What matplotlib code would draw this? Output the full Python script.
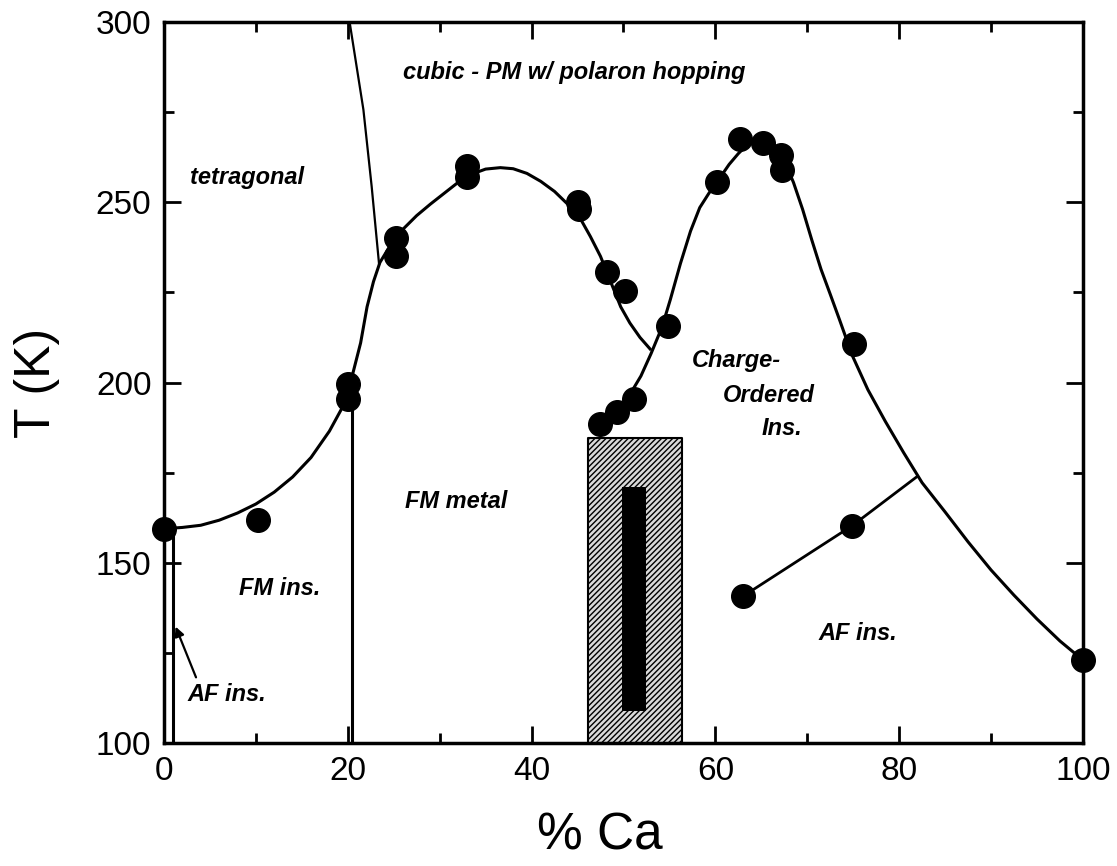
import matplotlib

matplotlib.use("Agg")
import matplotlib.pyplot as plt
from matplotlib.ticker import MultipleLocator

plt.rcParams["font.family"] = ["Liberation Sans", "DejaVu Sans"]
plt.rcParams["hatch.linewidth"] = 1.0

# measured Tc / T_CO points (% Ca, K)
ca_pct = [0, 10.2, 20, 20, 25.2, 25.2, 33, 33, 45.1, 45.2, 48.2, 50.2, 54.9,
          47.5, 49.3, 51.2, 60.2, 62.7, 65.2, 67.1, 67.3, 75.1, 100]
temp_k = [159.5, 162, 199.6, 195.5, 240, 235, 260, 257, 250, 248, 230.6, 225.3, 215.8,
          188.5, 191.8, 195.4, 255.5, 267.5, 266.5, 263, 259, 210.6, 123]

# AF ordering points
af_x = [63, 74.9]
af_y = [140.7, 160.3]
af_line_x = [63, 74.9, 82.0]
af_line_y = [140.7, 160.3, 174.0]

# FM transition curve
fm_curve_x = [0.3, 2, 4, 6, 8, 10, 12, 14, 16, 18, 19.5, 20.6, 21.4, 22.1, 22.8, 23.5,
              24.5, 26, 27.5, 29, 30.5, 32, 33.5, 35, 36.6, 38, 39.5, 41, 42.5, 44,
              45.3, 46.4, 47.5, 48.6, 49.7, 50.7, 51.8, 52.9]
fm_curve_y = [159.5, 159.8, 160.4, 161.8, 163.8, 166.3, 169.6, 173.8, 179.2, 186.5,
              193.5, 203, 211, 221, 228, 233.3, 237.5, 242.5, 246.3, 249.5, 252.5,
              255.5, 257.8, 259.2, 259.6, 259.3, 258, 255.8, 253, 249.3, 245.5, 240.5,
              235, 228, 221, 216.5, 212.5, 209.3]

# charge-order curve
co_curve_x = [47.3, 48.8, 50.4, 51.9, 53.0, 54.2, 55.1, 56.2, 57.3, 58.3, 59.3, 60.5,
              61.5, 62.5, 63.5, 64.5, 65.5, 66.5, 67.5, 68.5, 69.5, 70.5, 71.5, 72.5,
              73.5, 74.9, 76.6, 78.5, 80.5, 82.5, 85, 87.5, 90, 92.5, 95, 97.5, 100]
co_curve_y = [187.5, 191, 195.4, 201.8, 208, 215.4, 223, 233, 242, 248.5, 252.5, 256.8,
              260.5, 263.5, 266, 267, 266.8, 265, 261.5, 255.5, 248, 239.5, 231.4, 224.5,
              217.5, 207.5, 198, 189.2, 180.5, 172.2, 164.1, 155.8, 148, 141, 134.4,
              128.3, 123]

# structural boundary tetragonal / cubic
struct_x = [20.2, 21.7, 22.6, 23.4]
struct_y = [300, 275.7, 254.4, 233]

# vertical phase boundaries
af_edge_x = 1.0
af_edge_top = 158
fm_edge_x = 20.5
fm_edge_top = 194

# phase separated region (hatched) and inner bar
mix_x = [46.1, 56.4]
mix_top = 184.5
bar_x = [49.8, 52.5]
bar_y = [109, 171]

fig = plt.figure(figsize=(11.17, 8.66), dpi=100)
ax = fig.add_axes([0.1468, 0.142, 0.8227, 0.8326])

ax.fill_between(mix_x, 100, mix_top, facecolor="#d9d9d9", edgecolor="black",
                hatch="//////", linewidth=1.5, zorder=2)
ax.fill_between(bar_x, bar_y[0], bar_y[1], color="black", linewidth=0, zorder=3)

ax.plot(fm_curve_x, fm_curve_y, color="black", lw=2.2, zorder=4)
ax.plot(co_curve_x, co_curve_y, color="black", lw=2.2, zorder=4)
ax.plot(struct_x, struct_y, color="black", lw=1.6, zorder=4)
ax.plot(af_line_x, af_line_y, color="black", lw=2.0, zorder=4)
ax.plot([af_edge_x, af_edge_x], [100, af_edge_top], color="black", lw=2.2, zorder=4)
ax.plot([fm_edge_x, fm_edge_x], [100, fm_edge_top], color="black", lw=2.2, zorder=4)

ax.plot(ca_pct, temp_k, "o", color="black", markersize=17, clip_on=False, zorder=6)
ax.plot(af_x, af_y, "o", color="black", markersize=17, clip_on=False, zorder=6)

lab = dict(fontsize=17, fontweight="bold", fontstyle="italic", color="black",
           family=["Liberation Sans Narrow", "Liberation Sans", "DejaVu Sans"])
ax.text(26.0, 286, "cubic - PM w/ polaron hopping", ha="left", va="center", **lab)
ax.text(2.8, 257, "tetragonal", ha="left", va="center", **lab)
ax.text(31.8, 167, "FM metal", ha="center", va="center", **lab)
ax.text(12.6, 143, "FM ins.", ha="center", va="center", **lab)
ax.text(2.6, 113.5, "AF ins.", ha="left", va="center", **lab)
ax.text(57.4, 206, "Charge-", ha="left", va="center", **lab)
ax.text(60.8, 196.3, "Ordered", ha="left", va="center", **lab)
ax.text(65.0, 187.2, "Ins.", ha="left", va="center", **lab)
ax.text(75.5, 130.5, "AF ins.", ha="center", va="center", **lab)
ax.annotate("", xy=(1.15, 133), xytext=(3.6, 117.5),
            arrowprops=dict(arrowstyle="-|>", lw=1.6, color="black", mutation_scale=14))

ax.set_xlim(0, 100)
ax.set_ylim(100, 300)
ax.xaxis.set_major_locator(MultipleLocator(20))
ax.xaxis.set_minor_locator(MultipleLocator(10))
ax.yaxis.set_major_locator(MultipleLocator(50))
ax.yaxis.set_minor_locator(MultipleLocator(25))
ax.tick_params(which="both", direction="in", top=True, right=True, width=2,
               labelsize=24, pad=9)
ax.tick_params(which="major", length=12)
ax.tick_params(which="minor", length=7)
for s in ax.spines.values():
    s.set_linewidth(2.5)

ax.set_xlabel("% Ca", fontsize=37)
ax.xaxis.set_label_coords(0.474, -0.095)
ax.set_ylabel("T (K)", fontsize=36, labelpad=26)

fig.savefig("out.png", dpi=100)
